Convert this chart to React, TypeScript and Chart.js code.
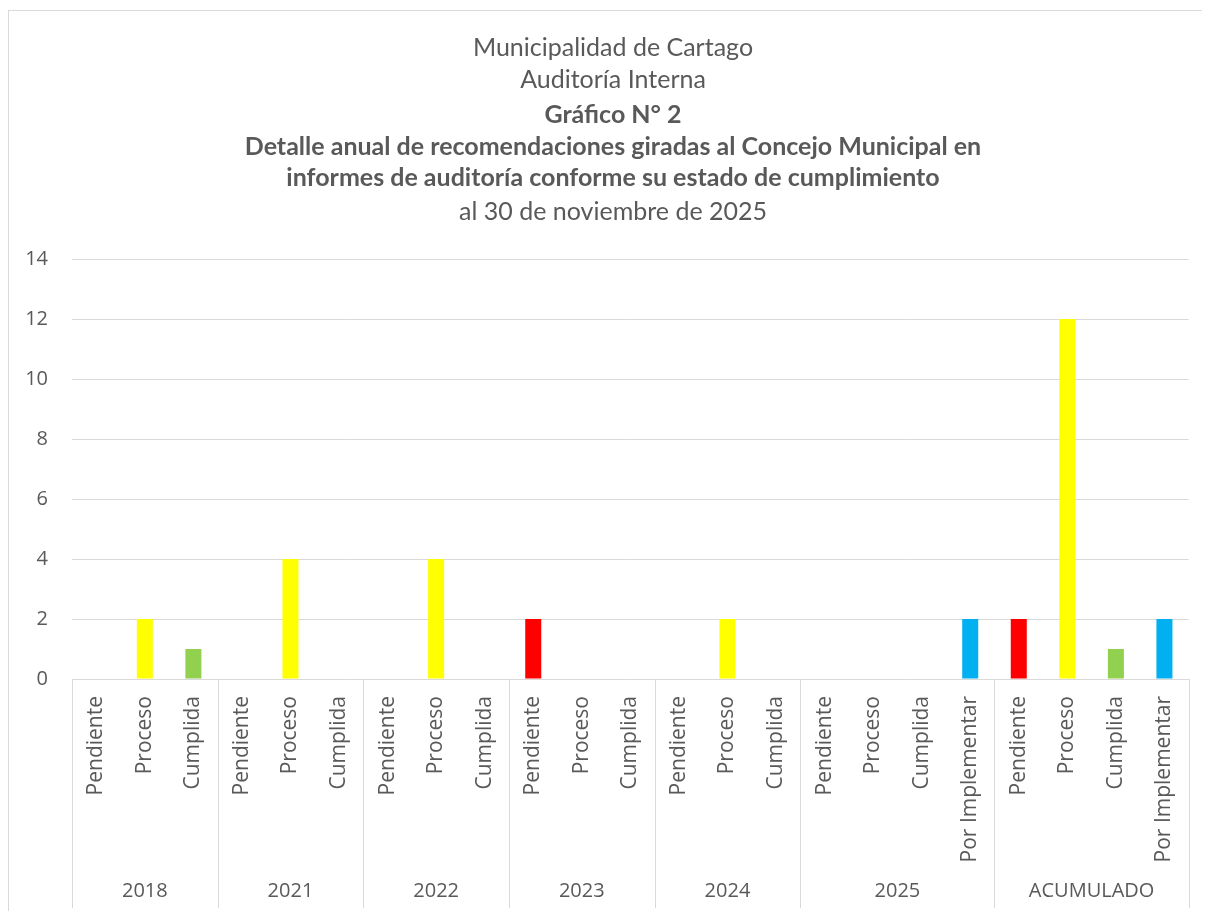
import React, { useEffect, useRef } from "react";
import { Chart, registerables } from "chart.js";

Chart.register(...registerables);

const categories = [
  "Pendiente", "Proceso", "Cumplida",
  "Pendiente", "Proceso", "Cumplida",
  "Pendiente", "Proceso", "Cumplida",
  "Pendiente", "Proceso", "Cumplida",
  "Pendiente", "Proceso", "Cumplida",
  "Pendiente", "Proceso", "Cumplida", "Por Implementar",
  "Pendiente", "Proceso", "Cumplida", "Por Implementar",
];
const groups = ["2018", "2021", "2022", "2023", "2024", "2025", "ACUMULADO"];
const groupSizes = [3, 3, 3, 3, 3, 4, 4];
const values = [
  0, 2, 1,
  0, 4, 0,
  0, 4, 0,
  2, 0, 0,
  0, 2, 0,
  0, 0, 0, 2,
  2, 12, 1, 2,
];
const statusColors: Record<string, string> = {
  Pendiente: "#FF0000",
  Proceso: "#FFFF00",
  Cumplida: "#92D050",
  "Por Implementar": "#00B0F0",
};
const titleLines = [
  { text: "Municipalidad de Cartago", bold: false },
  { text: "Auditoría Interna", bold: false },
  { text: "Gráfico N° 2", bold: true },
  { text: "Detalle anual de recomendaciones giradas al Concejo Municipal en", bold: true },
  { text: "informes de auditoría conforme su estado de cumplimiento", bold: true },
  { text: "al 30 de noviembre de 2025", bold: false },
];
const yMax = 14;
const yStep = 2;

const TEXT = "#595959";
const GRID = "#d9d9d9";
const AXIS_FONT = "'Open Sans'";

export default function App() {
  const ref = useRef<HTMLCanvasElement | null>(null);
  useEffect(() => {
    let chart: Chart | null = null;
    let cancelled = false;
    const titlePlugin = {
      id: "titleLines",
      afterDraw(c: any) {
        const ctx = c.ctx;
        const ys = [37, 69, 104, 136, 167, 201];
        ctx.save();
        ctx.fillStyle = TEXT;
        ctx.textAlign = "center";
        ctx.textBaseline = "middle";
        titleLines.forEach((l, i) => {
          ctx.font = `${l.bold ? "bold " : ""}25px Lato`;
          ctx.fillText(l.text, c.width / 2 + 5, ys[i]);
        });
        ctx.restore();
      },
    };
    const groupPlugin = {
      id: "groups",
      afterDraw(c: any) {
        const ctx = c.ctx;
        const xs = c.scales.x;
        const n = categories.length;
        const w = (xs.right - xs.left) / n;
        const top = c.chartArea.bottom;
        const bottom = xs.bottom;
        ctx.save();
        ctx.strokeStyle = GRID;
        ctx.lineWidth = 1;
        ctx.fillStyle = TEXT;
        ctx.font = `20px ${AXIS_FONT}`;
        ctx.textAlign = "center";
        ctx.textBaseline = "middle";
        let idx = 0;
        const bx = (i: number) => Math.round(xs.left + i * w) + 0.5;
        ctx.beginPath();
        ctx.moveTo(bx(0), top);
        ctx.lineTo(bx(0), bottom);
        ctx.stroke();
        groups.forEach((g, gi) => {
          const s = idx;
          const e = idx + groupSizes[gi];
          ctx.beginPath();
          ctx.moveTo(bx(e), top);
          ctx.lineTo(bx(e), bottom);
          ctx.stroke();
          ctx.fillText(g, xs.left + ((s + e) / 2) * w, bottom - 17);
          idx = e;
        });
        ctx.restore();
      },
    };
    const build = () => {
      if (cancelled || !ref.current) return;
      chart = new Chart(ref.current, {
        type: "bar",
        data: {
          labels: categories,
          datasets: [
            {
              data: values,
              backgroundColor: categories.map((cat) => statusColors[cat]),
              barPercentage: 0.33,
              categoryPercentage: 1,
            },
          ],
        },
        options: {
          responsive: false,
          animation: false,
          layout: { padding: { top: 248, left: 0, right: 17, bottom: 4 } },
          plugins: {
            legend: { display: false },
            tooltip: { enabled: false },
            title: { display: false },
          },
          scales: {
            x: {
              grid: { display: false, drawTicks: false },
              border: { display: false },
              ticks: {
                maxRotation: 90,
                minRotation: 90,
                padding: 17,
                color: TEXT,
                font: { family: AXIS_FONT, size: 21 },
                autoSkip: false,
              },
              afterFit(scale: any) {
                scale.height = 229;
              },
            },
            y: {
              min: 0,
              max: yMax,
              grid: { color: GRID, drawTicks: false, lineWidth: 1 },
              border: { display: false },
              ticks: {
                stepSize: yStep,
                padding: 24,
                color: TEXT,
                font: { family: AXIS_FONT, size: 20 },
              },
              afterFit(scale: any) {
                scale.width = 63;
              },
            },
          },
        },
        plugins: [titlePlugin, groupPlugin],
      });
    };
    const fonts = (document as any).fonts;
    if (fonts && fonts.load) {
      Promise.all([
        fonts.load("20px 'Open Sans'"),
        fonts.load("25px Lato"),
        fonts.load("bold 25px Lato"),
      ])
        .catch(() => null)
        .then(build);
    } else {
      build();
    }
    return () => {
      cancelled = true;
      if (chart) chart.destroy();
    };
  }, []);
  return (
    <div
      style={{
        position: "relative",
        top: 2,
        width: 1200,
        height: 903,
        boxSizing: "border-box",
        border: "1px solid #d9d9d9",
        background: "#fff",
      }}
    >
      <canvas ref={ref} width={1198} height={901} style={{ display: "block", width: 1198, height: 901 }} />
    </div>
  );
}
